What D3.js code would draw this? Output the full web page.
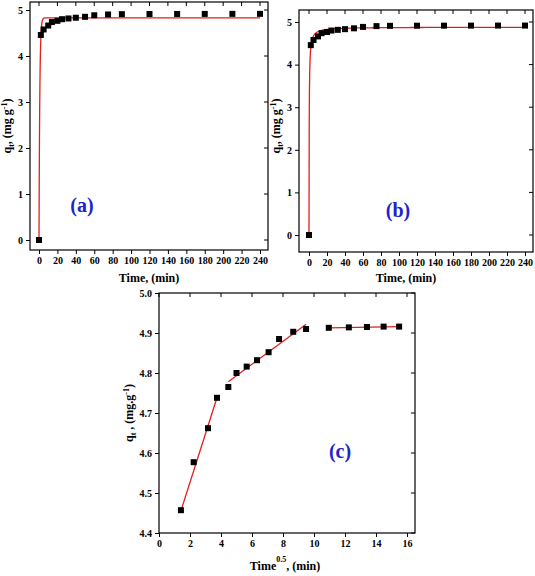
<!DOCTYPE html>
<html><head><meta charset="utf-8">
<script src="https://cdn.jsdelivr.net/npm/d3@7"></script>
<style>body{margin:0;background:#fff}text{font-family:"Liberation Serif",serif;font-weight:bold}</style>
</head><body>
<script>
// contact time (min) and uptake qt (mg/g)
var times = [0, 2, 5, 10, 14, 20, 25, 32, 40, 50, 60, 75, 90, 120, 150, 180, 210, 240];
var qt = [0, 4.457, 4.577, 4.662, 4.738, 4.765, 4.80, 4.816, 4.832, 4.852, 4.885, 4.903, 4.91, 4.913, 4.914, 4.915, 4.916, 4.916];
var xTicksAB = [0, 20, 40, 60, 80, 100, 120, 140, 160, 180, 200, 220, 240];
var yTicksAB = [0, 1, 2, 3, 4, 5];
var xTicksC = [0, 2, 4, 6, 8, 10, 12, 14, 16];
var yTicksC = [4.4, 4.5, 4.6, 4.7, 4.8, 4.9, 5.0];
// fitted models
var pfoQe = 4.83, pfoK = 1.2;     // (a)
var psoQe = 4.88, psoK = 0.92;    // (b)
// intraparticle diffusion segments (c): [x0,y0,x1,y1]
var segs = [[1.41, 4.455, 3.74, 4.738], [4.47, 4.778, 9.49, 4.922], [10.95, 4.913, 15.49, 4.916]];

var svg = d3.select("body").append("svg").attr("width", 535).attr("height", 576);

function panel(o) {
  var g = svg.append("g");
  var x = d3.scaleLinear().domain(o.xd).range(o.xr);
  var y = d3.scaleLinear().domain(o.yd).range(o.yr);
  g.append("rect").attr("x", o.box[0]).attr("y", o.box[1]).attr("width", o.box[2] - o.box[0])
    .attr("height", o.box[3] - o.box[1]).attr("fill", "none").attr("stroke", "#000").attr("stroke-width", 1.2);
  var ax = g.append("g").attr("transform", "translate(0," + o.box[3] + ")")
    .call(d3.axisBottom(x).tickValues(o.xt).tickSize(4).tickFormat(o.xf || d3.format("d")));
  var ay = g.append("g").attr("transform", "translate(" + o.box[0] + ",0)")
    .call(d3.axisLeft(y).tickValues(o.yt).tickSize(4).tickFormat(o.yf || d3.format("d")));
  [ax, ay].forEach(function (a) {
    a.select(".domain").remove();
    a.selectAll("text").attr("font-size", 10).attr("font-family", "Liberation Serif").attr("font-weight", "bold");
  });
  // mirrored inward ticks top/right
  g.selectAll(".tt").data(o.xt).enter().append("line")
    .attr("x1", x).attr("x2", x).attr("y1", o.box[1]).attr("y2", o.box[1] + 4).attr("stroke", "#000");
  g.selectAll(".tr").data(o.yt).enter().append("line")
    .attr("y1", y).attr("y2", y).attr("x1", o.box[2]).attr("x2", o.box[2] - 4).attr("stroke", "#000");
  return { g: g, x: x, y: y };
}

function yLabel(g, cx, cy, sub, unit) {
  var t = g.append("text").attr("transform", "translate(" + cx + "," + cy + ") rotate(-90)")
    .attr("text-anchor", "middle").attr("font-size", 12);
  t.append("tspan").text("q");
  t.append("tspan").attr("font-size", 8).attr("dy", 3).text(sub);
  t.append("tspan").attr("dy", -3).text(unit);
  t.append("tspan").attr("font-size", 8).attr("dy", -4).text("-1");
  t.append("tspan").attr("dy", 4).text(")");
}

function dots(p, xs, ys) {
  p.g.selectAll(".pt").data(xs).enter().append("rect")
    .attr("x", function (d) { return p.x(d) - 3; })
    .attr("y", function (d, i) { return p.y(ys[i]) - 3; })
    .attr("width", 6).attr("height", 6).attr("fill", "#000");
}

function curve(p, f) {
  var ts = d3.range(0, 240.01, 0.25);
  p.g.append("path").datum(ts).attr("fill", "none").attr("stroke", "#e0201c").attr("stroke-width", 1.3)
    .attr("d", d3.line().x(function (t) { return p.x(t); }).y(function (t) { return p.y(f(t)); }));
}

// (a)
var a = panel({ xd: [0, 240], xr: [39, 260], yd: [0, 5], yr: [240, 10], box: [30, 2, 268, 250], xt: xTicksAB, yt: yTicksAB });
curve(a, function (t) { return pfoQe * (1 - Math.exp(-pfoK * t)); });
dots(a, times, qt);
a.g.append("text").attr("x", 149).attr("y", 282).attr("text-anchor", "middle").attr("font-size", 12).text("Time, (min)");
yLabel(a.g, 11, 126, "t", ", (mg g");
a.g.append("text").attr("x", 82).attr("y", 212).attr("text-anchor", "middle").attr("font-size", 20).attr("fill", "#2222cc").text("(a)");

// (b)
var b = panel({ xd: [0, 240], xr: [309, 525], yd: [0, 5], yr: [235, 22], box: [299, 10, 533, 252], xt: xTicksAB, yt: yTicksAB });
curve(b, function (t) { return psoQe * psoQe * psoK * t / (1 + psoQe * psoK * t); });
dots(b, times, qt);
b.g.append("text").attr("x", 406).attr("y", 282).attr("text-anchor", "middle").attr("font-size", 12).text("Time, (min)");
yLabel(b.g, 280, 126, "t", ", (mg g");
b.g.append("text").attr("x", 398).attr("y", 217).attr("text-anchor", "middle").attr("font-size", 20).attr("fill", "#2222cc").text("(b)");

// (c)
var c = panel({ xd: [0, 16], xr: [159, 407], yd: [4.4, 5.0], yr: [533, 293], box: [159, 293, 415, 533], xt: xTicksC, yt: yTicksC, yf: d3.format(".1f") });
c.g.selectAll(".sg").data(segs).enter().append("line")
  .attr("x1", function (d) { return c.x(d[0]); }).attr("y1", function (d) { return c.y(d[1]); })
  .attr("x2", function (d) { return c.x(d[2]); }).attr("y2", function (d) { return c.y(d[3]); })
  .attr("stroke", "#e0201c").attr("stroke-width", 1.3);
dots(c, times.slice(1).map(Math.sqrt), qt.slice(1));
var xl = c.g.append("text").attr("x", 285).attr("y", 570).attr("text-anchor", "middle").attr("font-size", 12);
xl.append("tspan").text("Time");
xl.append("tspan").attr("font-size", 8).attr("dy", -8).text("0.5");
xl.append("tspan").attr("dy", 8).text(", (min)");
yLabel(c.g, 133, 413, "t", " ,  (mg.g");
c.g.append("text").attr("x", 340).attr("y", 458).attr("text-anchor", "middle").attr("font-size", 20).attr("fill", "#2222cc").text("(c)");
</script>
</body></html>
